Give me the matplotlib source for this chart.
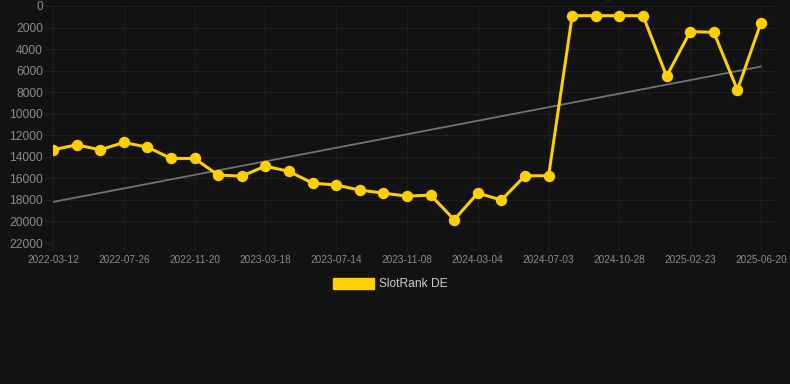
import matplotlib
matplotlib.use("Agg")
import matplotlib.pyplot as plt
from matplotlib.patches import Patch
import numpy as np

plt.rcParams['font.family'] = ['Liberation Sans', 'DejaVu Sans']

tick_labels = ["2022-03-12", "2022-07-26", "2022-11-20", "2023-03-18", "2023-07-14",
               "2023-11-08", "2024-03-04", "2024-07-03", "2024-10-28", "2025-02-23",
               "2025-06-20"]
series_name = "SlotRank DE"
rank_values = [13350, 12890, 13350, 12670, 13100, 14150, 14150, 15700, 15790, 14860,
               15360, 16440, 16620, 17090, 17370, 17650, 17550, 19840, 17370, 18010,
               15760, 15760, 900, 900, 900, 900, 6520, 2380, 2440, 7790, 1545]
y_ticks = [0, 2000, 4000, 6000, 8000, 10000, 12000, 14000, 16000, 18000, 20000, 22000]

BG = "#121212"
GRID = "#1f1f1f"
YELLOW = "#FFD000"
TREND = "#727272"

px = 72 / 100.0
fig = plt.figure(figsize=(7.9, 3.84), dpi=100, facecolor=BG)
ax = fig.add_axes([53 / 790, 1 - 243 / 384, (775 - 53) / 790, (243 - 6) / 384])
ax.set_facecolor(BG)

x = np.arange(len(rank_values))
y = np.array(rank_values, dtype=float)

coef = np.polyfit(x, y, 1)
ax.plot(x, np.polyval(coef, x), color=TREND, lw=1.8 * px, zorder=2)

ax.plot(x, y, color=YELLOW, lw=3 * px, marker='o', markersize=10 * px,
        markerfacecolor=YELLOW, markeredgecolor=YELLOW, zorder=3)

ax.set_ylim(22000, 0)
ax.set_xlim(0, 30 + 14 / 23.6)
ax.set_yticks(y_ticks)
ax.set_yticklabels([str(v) for v in y_ticks])
tick_pos = np.arange(0, len(rank_values), 3)
ax.set_xticks(tick_pos)
ax.set_xticklabels(tick_labels)

ax.grid(True, color=GRID, lw=1 * px)
ax.set_axisbelow(True)
for s in ax.spines.values():
    s.set_visible(False)

ax.tick_params(axis='y', colors=GRID, labelcolor="#8c8c8c", labelsize=12 * px,
               length=9 * px, width=1 * px, pad=1 * px)
ax.tick_params(axis='x', colors=GRID, labelcolor="#8c8c8c", labelsize=10 * px,
               length=7 * px, width=1 * px, pad=5 * px)

handle = Patch(facecolor=YELLOW, edgecolor=YELLOW)
leg = fig.legend([handle], [series_name], loc='center',
                 bbox_to_anchor=(390 / 790, 1 - 284 / 384), frameon=False,
                 fontsize=12 * px, handlelength=3.4, handleheight=1.0,
                 handletextpad=0.42, borderpad=0)
for t in leg.get_texts():
    t.set_color("#cccccc")

fig.savefig("out.png", dpi=100, facecolor=BG)
